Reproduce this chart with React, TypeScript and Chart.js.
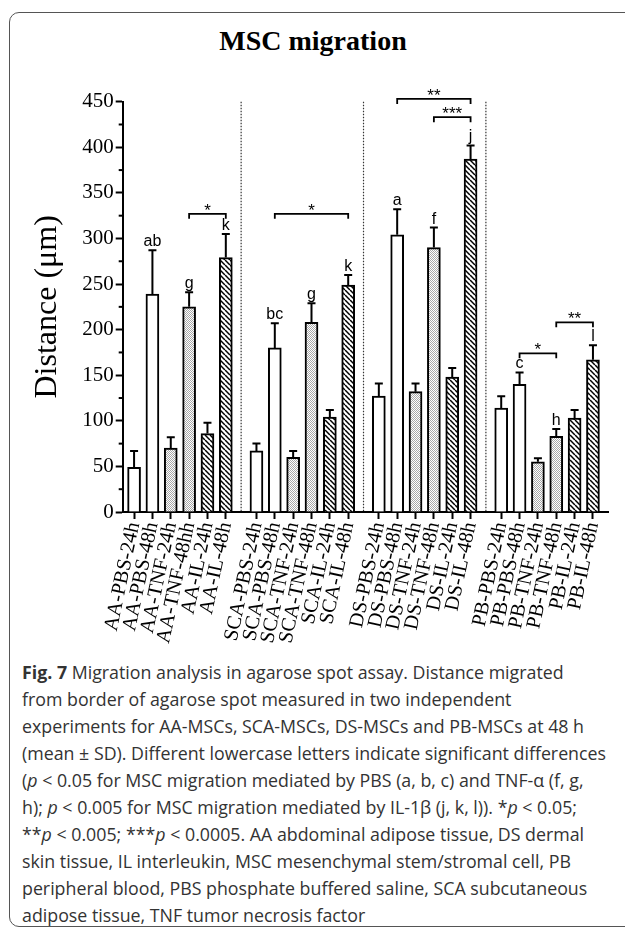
import React, { useEffect, useRef } from 'react';
import { Chart, registerables } from 'chart.js';

Chart.register(...registerables);

const LABELS = [
  'AA-PBS-24h', 'AA-PBS-48h', 'AA-TNF-24h', 'AA-TNF-48hh', 'AA-IL-24h', 'AA-IL-48h',
  'SCA-PBS-24h', 'SCA-PBS-48h', 'SCA-TNF-24h', 'SCA-TNF-48h', 'SCA-IL-24h', 'SCA-IL-48h',
  'DS-PBS-24h', 'DS-PBS-48h', 'DS-TNF-24h', 'DS-TNF-48h', 'DS-IL-24h', 'DS-IL-48h',
  'PB-PBS-24h', 'PB-PBS-48h', 'PB-TNF-24h', 'PB-TNF-48h', 'PB-IL-24h', 'PB-IL-48h',
];
const MEANS = [
  49, 239, 70, 225, 86, 279,
  67, 180, 60, 208, 104, 249,
  127, 304, 132, 290, 148, 387,
  114, 140, 55, 83, 103, 167,
];
const SDS = [
  18, 48, 12, 16, 12, 26,
  8, 27, 7, 21, 8, 11,
  14, 28, 9, 22, 10, 15,
  13, 13, 4, 8, 9, 16,
];
const TREATMENT = ['PBS', 'PBS', 'TNF', 'TNF', 'IL', 'IL'];
const LETTERS = [
  '', 'ab', '', 'g', '', 'k',
  '', 'bc', '', 'g', '', 'k',
  '', 'a', '', 'f', '', 'j',
  '', 'c', '', 'h', '', 'l',
];
// [from bar, to bar, height (µm), label]
const BRACKETS: [number, number, number, string][] = [
  [3, 5, 327, '*'],
  [7, 11, 327, '*'],
  [13, 17, 453, '**'],
  [15, 17, 433, '***'],
  [19, 21, 174, '*'],
  [21, 23, 208, '**'],
];
const Y_MINOR = [25, 75, 125, 175, 225, 275, 325, 375, 425];

const GROUP_SIZE = 6;
const GROUP_STEP = 6.67;
const POS = LABELS.map((_, i) => Math.floor(i / GROUP_SIZE) * GROUP_STEP + (i % GROUP_SIZE));
const SEPARATORS = [0, 1, 2].map((g) => (POS[g * 6 + 5] + POS[(g + 1) * 6]) / 2);

const SERIF = "'Liberation Serif', 'DejaVu Serif', serif";
const SANS = "'Liberation Sans', Arial, sans-serif";

function makeStipple(): CanvasPattern | string {
  const c = document.createElement('canvas');
  c.width = 2; c.height = 2;
  const g = c.getContext('2d');
  if (!g) return '#d4d4d4';
  g.fillStyle = '#ffffff'; g.fillRect(0, 0, 2, 2);
  g.fillStyle = '#a8a8a8'; g.fillRect(0, 0, 1, 1); g.fillRect(1, 1, 1, 1);
  return g.createPattern(c, 'repeat') || '#d4d4d4';
}

function makeHatch(): CanvasPattern | string {
  const s = 5;
  const c = document.createElement('canvas');
  c.width = s; c.height = s;
  const g = c.getContext('2d');
  if (!g) return '#888';
  g.fillStyle = '#ffffff'; g.fillRect(0, 0, s, s);
  g.strokeStyle = '#000000'; g.lineWidth = 1.5;
  for (const k of [-s, 0, s]) {
    g.beginPath(); g.moveTo(k, 0); g.lineTo(k + s, s); g.stroke();
  }
  return g.createPattern(c, 'repeat') || '#888';
}

const annotations = {
  id: 'annotations',
  afterDraw(chart: any) {
    const { ctx, chartArea: area } = chart;
    const xs = chart.scales.x;
    const ys = chart.scales.y;
    ctx.save();
    // group separators
    ctx.strokeStyle = '#333';
    ctx.lineWidth = 1.2;
    ctx.setLineDash([1.5, 1.5]);
    SEPARATORS.forEach((v) => {
      const px = xs.getPixelForValue(v);
      ctx.beginPath(); ctx.moveTo(px, area.top); ctx.lineTo(px, area.bottom - 1); ctx.stroke();
    });
    ctx.setLineDash([]);
    // minor y ticks
    ctx.strokeStyle = '#000'; ctx.lineWidth = 2;
    Y_MINOR.forEach((v) => {
      const py = ys.getPixelForValue(v);
      ctx.beginPath(); ctx.moveTo(area.left - 4, py); ctx.lineTo(area.left, py); ctx.stroke();
    });
    // error bars + letters
    const meta = chart.getDatasetMeta(0);
    ctx.fillStyle = '#000';
    ctx.textAlign = 'center';
    ctx.textBaseline = 'alphabetic';
    ctx.font = `16px ${SANS}`;
    meta.data.forEach((bar: any, i: number) => {
      const px = bar.x;
      const base = ys.getPixelForValue(MEANS[i]);
      const top = ys.getPixelForValue(MEANS[i] + SDS[i]);
      ctx.beginPath();
      ctx.moveTo(px, base); ctx.lineTo(px, top);
      ctx.moveTo(px - 4, top); ctx.lineTo(px + 4, top);
      ctx.stroke();
      if (LETTERS[i]) ctx.fillText(LETTERS[i], px, top - 4);
    });
    // significance brackets
    ctx.lineWidth = 1.8;
    ctx.font = `17px ${SANS}`;
    BRACKETS.forEach(([a, b, v, label]) => {
      const x1 = xs.getPixelForValue(POS[a]);
      const x2 = xs.getPixelForValue(POS[b]);
      const py = ys.getPixelForValue(v);
      ctx.beginPath();
      ctx.moveTo(x1, py + 5); ctx.lineTo(x1, py); ctx.lineTo(x2, py); ctx.lineTo(x2, py + 5);
      ctx.stroke();
      ctx.fillText(label, (x1 + x2) / 2, py + 2);
    });
    ctx.restore();
  },
};

export default function App() {
  const ref = useRef<HTMLCanvasElement | null>(null);

  useEffect(() => {
    if (!ref.current) return;
    const stipple = makeStipple();
    const hatch = makeHatch();
    const fills = LABELS.map((_, i) => {
      const t = TREATMENT[i % GROUP_SIZE];
      return t === 'PBS' ? '#ffffff' : t === 'TNF' ? stipple : hatch;
    });
    const chart = new Chart(ref.current, {
      type: 'bar',
      data: {
        datasets: [
          {
            label: 'Distance',
            data: POS.map((x, i) => ({ x, y: MEANS[i] })),
            backgroundColor: fills as any,
            borderColor: '#000',
            borderWidth: 2,
            barThickness: 13,
          },
        ],
      },
      options: {
        animation: false,
        responsive: true,
        maintainAspectRatio: false,
        layout: { padding: { left: 0, right: 17, top: 41.7, bottom: 0 } },
        plugins: { legend: { display: false }, tooltip: { enabled: false } },
        scales: {
          x: {
            type: 'linear',
            offset: false,
            min: -0.62,
            max: 25.83,
            afterBuildTicks: (s: any) => {
              s.ticks = POS.map((v) => ({ value: v }));
            },
            afterFit: (s: any) => {
              s.height = 138;
            },
            ticks: {
              autoSkip: false,
              minRotation: 78,
              maxRotation: 78,
              padding: 1,
              color: '#000',
              font: { family: SERIF, size: 20.5 },
              callback: (_v: any, i: number) => LABELS[i],
            },
            grid: { drawOnChartArea: false, drawTicks: true, tickLength: 7, tickColor: '#000', tickWidth: 2, offset: false },
            border: { display: true, color: '#000', width: 2 },
          },
          y: {
            min: 0,
            max: 450,
            afterFit: (s: any) => {
              s.width = 122.7;
            },
            ticks: {
              stepSize: 50,
              padding: 2,
              color: '#000',
              font: { family: SERIF, size: 21 },
            },
            grid: { drawOnChartArea: false, drawTicks: true, tickLength: 7, tickColor: '#000', tickWidth: 2 },
            border: { display: true, color: '#000', width: 2 },
            title: {
              display: true,
              text: 'Distance (μm)',
              color: '#000',
              font: { family: SERIF, size: 32 },
              padding: { top: 28, bottom: 0 },
            },
          },
        },
      },
      plugins: [annotations],
    });
    return () => chart.destroy();
  }, []);

  const cap: React.CSSProperties = { whiteSpace: 'nowrap' };
  return (
    <div style={{ position: 'absolute', left: 0, top: 0, width: 625, height: 934, overflow: 'hidden', background: '#fff' }}>
      <div
        style={{
          position: 'absolute', left: 9, top: 12, width: 660, height: 915,
          border: '1.3px solid #555', borderRadius: 10, boxSizing: 'border-box',
        }}
      />
      <div
        style={{
          position: 'absolute', left: 0, top: 24, width: 626, textAlign: 'center',
          fontFamily: SERIF, fontWeight: 'bold', fontSize: 28, lineHeight: '34px', color: '#000',
        }}
      >
        MSC migration
      </div>
      <div style={{ position: 'absolute', left: 0, top: 60, width: 625, height: 590 }}>
        <canvas ref={ref} />
      </div>
      <div
        style={{
          position: 'absolute', left: 22, top: 659, width: 600,
          fontFamily: "'Open Sans', 'Noto Sans', sans-serif", fontSize: 17.8, lineHeight: '27px', color: '#333',
        }}
      >
        <div style={cap}><b>Fig. 7</b> Migration analysis in agarose spot assay. Distance migrated</div>
        <div style={cap}>from border of agarose spot measured in two independent</div>
        <div style={cap}>experiments for AA-MSCs, SCA-MSCs, DS-MSCs and PB-MSCs at 48 h</div>
        <div style={cap}>(mean ± SD). Different lowercase letters indicate significant differences</div>
        <div style={cap}>(<i>p</i> &lt; 0.05 for MSC migration mediated by PBS (a, b, c) and TNF-α (f, g,</div>
        <div style={cap}>h); <i>p</i> &lt; 0.005 for MSC migration mediated by IL-1β (j, k, l)). *<i>p</i> &lt; 0.05;</div>
        <div style={cap}>**<i>p</i> &lt; 0.005; ***<i>p</i> &lt; 0.0005. AA abdominal adipose tissue, DS dermal</div>
        <div style={cap}>skin tissue, IL interleukin, MSC mesenchymal stem/stromal cell, PB</div>
        <div style={cap}>peripheral blood, PBS phosphate buffered saline, SCA subcutaneous</div>
        <div style={cap}>adipose tissue, TNF tumor necrosis factor</div>
      </div>
    </div>
  );
}
